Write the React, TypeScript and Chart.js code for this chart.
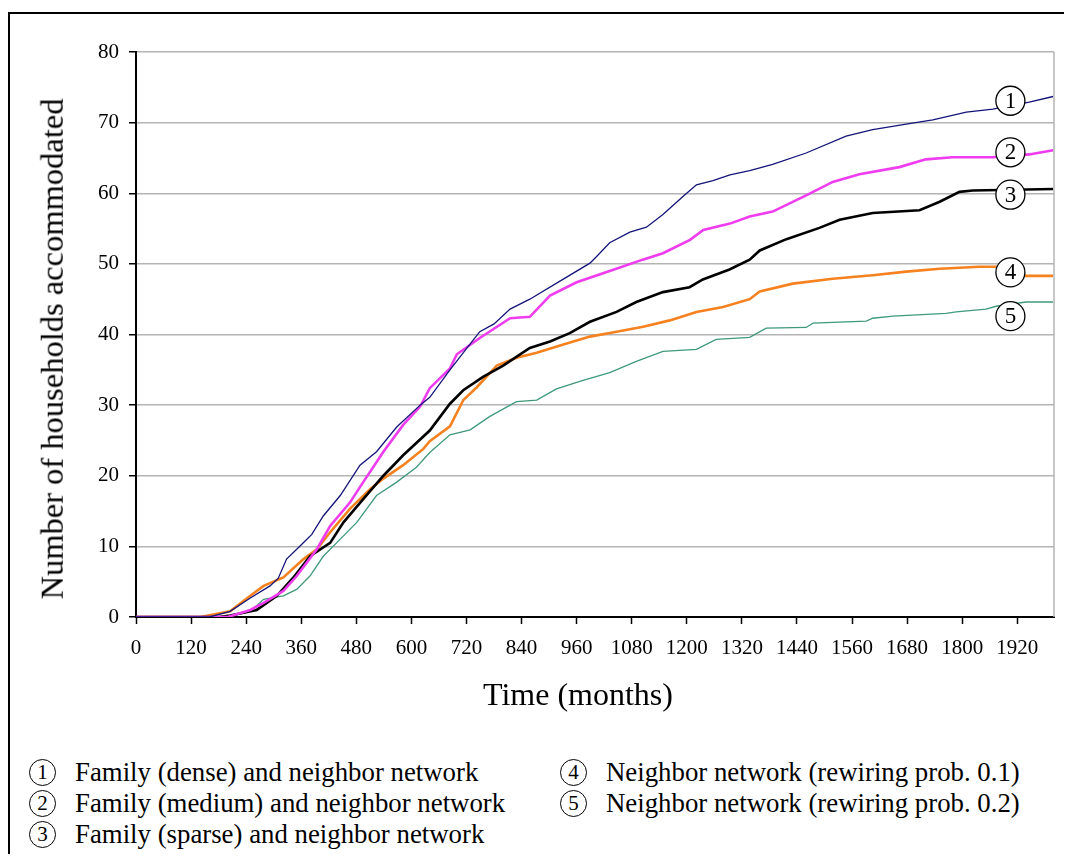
import React, { useEffect, useRef } from 'react';
import { Chart, registerables } from 'chart.js';

Chart.register(...registerables);

const FONT = '"Liberation Serif", "Times New Roman", Times, serif';

// Tick labels
const xTickValues = [0, 120, 240, 360, 480, 600, 720, 840, 960, 1080, 1200, 1320, 1440, 1560, 1680, 1800, 1920];
const yTickValues = [0, 10, 20, 30, 40, 50, 60, 70, 80];

// Series 1: Family (dense) and neighbor network
const s1Time = [0, 160, 205, 249, 292, 310, 328, 358, 383, 408, 445, 488, 524, 568, 619, 640, 684, 720, 749, 780, 815, 858, 930, 989, 1003, 1032, 1076, 1112, 1148, 1191, 1221, 1257, 1294, 1337, 1387, 1460, 1547, 1605, 1678, 1736, 1809, 1867, 1946, 1998];
const s1Vals = [0, 0, 0.8, 2.7, 4.4, 5.5, 8.2, 10.1, 11.7, 14.3, 17.2, 21.5, 23.4, 26.9, 30, 31.1, 35, 38, 40.4, 41.5, 43.6, 45, 47.8, 50.1, 51, 53, 54.5, 55.2, 57, 59.5, 61.2, 61.8, 62.6, 63.2, 64.1, 65.7, 68.1, 69, 69.8, 70.4, 71.5, 71.9, 72.9, 73.7];

// Series 2: Family (medium) and neighbor network
const s2Time = [0, 200, 249, 278, 321, 350, 394, 423, 466, 495, 539, 582, 619, 640, 684, 699, 749, 815, 858, 902, 960, 1032, 1104, 1148, 1207, 1236, 1294, 1337, 1387, 1460, 1518, 1576, 1663, 1721, 1779, 1867, 1946, 1998];
const s2Vals = [0, 0, 1.0, 2, 3.7, 5.8, 9.6, 12.9, 16.2, 19.1, 23.4, 27.2, 29.8, 32.4, 35.2, 37.2, 39.5, 42.3, 42.5, 45.5, 47.4, 49, 50.6, 51.5, 53.4, 54.8, 55.7, 56.7, 57.4, 59.7, 61.6, 62.7, 63.7, 64.8, 65.1, 65.1, 65.5, 66.1];

// Series 3: Family (sparse) and neighbor network
const s3Time = [0, 180, 205, 263, 307, 343, 379, 423, 452, 495, 539, 582, 640, 684, 713, 756, 800, 858, 902, 945, 989, 1047, 1090, 1148, 1206, 1235, 1293, 1337, 1359, 1417, 1489, 1533, 1605, 1707, 1751, 1794, 1823, 1998];
const s3Vals = [0, 0, 0.2, 1, 3, 5.6, 8.6, 10.5, 13.4, 16.7, 20, 22.9, 26.4, 30.2, 32.1, 34, 35.6, 38.1, 39, 40.2, 41.8, 43.2, 44.6, 46, 46.7, 47.8, 49.2, 50.6, 51.9, 53.5, 55.1, 56.25, 57.2, 57.6, 58.8, 60.2, 60.4, 60.6];

// Series 4: Neighbor network (rewiring prob. 0.1)
const s4Time = [0, 140, 205, 249, 278, 321, 365, 394, 423, 466, 510, 539, 582, 626, 640, 684, 713, 742, 786, 829, 873, 931, 989, 1047, 1105, 1163, 1221, 1279, 1337, 1359, 1431, 1518, 1605, 1678, 1751, 1837, 1880, 1890, 1998];
const s4Vals = [0, 0, 0.8, 3, 4.4, 5.6, 8.2, 9.6, 12, 15.3, 18.1, 19.6, 21.5, 23.8, 24.9, 27, 30.7, 32.5, 35.6, 36.7, 37.4, 38.6, 39.7, 40.4, 41.1, 42, 43.2, 43.9, 45, 46.1, 47.2, 47.9, 48.4, 48.9, 49.3, 49.6, 49.6, 48.3, 48.3];

// Series 5: Neighbor network (rewiring prob. 0.2)
const s5Time = [0, 200, 249, 278, 321, 350, 379, 408, 437, 481, 524, 568, 611, 640, 684, 728, 771, 829, 873, 916, 974, 1032, 1090, 1148, 1221, 1264, 1337, 1373, 1460, 1475, 1591, 1605, 1649, 1765, 1787, 1852, 1874, 1939, 1998];
const s5Vals = [0, 0, 0.8, 2.5, 3, 3.9, 5.8, 8.6, 10.5, 13.4, 17.2, 19.1, 21.2, 23.3, 25.8, 26.5, 28.4, 30.5, 30.7, 32.3, 33.5, 34.6, 36.2, 37.6, 37.9, 39.3, 39.6, 40.9, 41, 41.6, 41.9, 42.3, 42.6, 43, 43.2, 43.6, 44, 44.6, 44.6];

// Circled series markers on the plot (data coordinates)
const markerNumbers = ['1', '2', '3', '4', '5'];
const markerTime = 1905;
const markerValues = [73.1, 65.8, 59.8, 48.8, 42.6];

const legendLabels = [
  'Family (dense) and neighbor network',
  'Family (medium) and neighbor network',
  'Family (sparse) and neighbor network',
  'Neighbor network (rewiring prob. 0.1)',
  'Neighbor network (rewiring prob. 0.2)',
];

const seriesColors = ['#14147a', '#ee3cee', '#000000', '#f5821f', '#3f9a78'];
const seriesWidths = [1.3, 2.6, 2.6, 2.6, 1.3];

const toPoints = (t: number[], v: number[]) => t.map((x, i) => ({ x, y: v[i] }));

const markerPlugin = {
  id: 'markers',
  afterDatasetsDraw(chart: any) {
    const { ctx, chartArea, scales } = chart;
    ctx.save();
    // right border of the plot area
    ctx.strokeStyle = '#b4b4b4';
    ctx.lineWidth = 1.5;
    ctx.beginPath();
    ctx.moveTo(chartArea.right, chartArea.top);
    ctx.lineTo(chartArea.right, chartArea.bottom);
    ctx.stroke();
    markerValues.forEach((v, i) => {
      const x = scales.x.getPixelForValue(markerTime);
      const y = scales.y.getPixelForValue(v);
      ctx.beginPath();
      ctx.arc(x, y, 14.5, 0, Math.PI * 2);
      ctx.fillStyle = '#fff';
      ctx.fill();
      ctx.lineWidth = 1.3;
      ctx.strokeStyle = '#000';
      ctx.stroke();
      ctx.fillStyle = '#000';
      ctx.font = `23px ${FONT}`;
      ctx.textAlign = 'center';
      ctx.textBaseline = 'middle';
      ctx.fillText(markerNumbers[i], x, y + 1);
    });
    ctx.restore();
  },
};

const Circled = ({ n }: { n: string }) => (
  <span
    style={{
      display: 'inline-flex',
      alignItems: 'center',
      justifyContent: 'center',
      width: 27,
      height: 27,
      borderRadius: '50%',
      border: '1.3px solid #000',
      boxSizing: 'border-box',
      fontSize: 21,
      lineHeight: 1,
      fontFamily: FONT,
      flex: '0 0 auto',
    }}
  >
    {n}
  </span>
);

export default function App() {
  const ref = useRef<HTMLCanvasElement>(null);

  useEffect(() => {
    document.documentElement.style.overflow = 'hidden';
    const series = [
      toPoints(s1Time, s1Vals),
      toPoints(s2Time, s2Vals),
      toPoints(s3Time, s3Vals),
      toPoints(s4Time, s4Vals),
      toPoints(s5Time, s5Vals),
    ];
    const chart = new Chart(ref.current as HTMLCanvasElement, {
      type: 'line',
      data: {
        datasets: series.map((d, i) => ({
          label: legendLabels[i],
          data: d,
          borderColor: seriesColors[i],
          borderWidth: seriesWidths[i],
          pointRadius: 0,
          tension: 0,
          fill: false,
          order: i,
        })),
      },
      options: {
        responsive: false,
        animation: false,
        devicePixelRatio: 1,
        layout: { padding: { left: 0, top: 44, right: 10, bottom: 0 } },
        plugins: { legend: { display: false }, tooltip: { enabled: false } },
        scales: {
          x: {
            type: 'linear',
            min: 0,
            max: 2000,
            afterBuildTicks: (s: any) => {
              s.ticks = xTickValues.map((value) => ({ value }));
            },
            afterFit: (s: any) => {
              s.height = 91;
            },
            grid: { drawOnChartArea: false, tickLength: 7, tickColor: '#000', tickWidth: 1.5 },
            border: { color: '#000', width: 2 },
            ticks: {
              font: { family: FONT, size: 21 },
              color: '#000',
              padding: 12,
              maxRotation: 0,
              autoSkip: false,
              callback: (v: any) => String(v),
            },
          },
          y: {
            min: 0,
            max: 80,
            afterBuildTicks: (s: any) => {
              s.ticks = yTickValues.map((value) => ({ value }));
            },
            afterFit: (s: any) => {
              s.width = 128;
            },
            grid: { color: '#b4b4b4', lineWidth: 1.5, tickLength: 7, tickColor: '#000', tickWidth: 1.5 },
            border: { color: '#000', width: 2 },
            ticks: {
              font: { family: FONT, size: 21 },
              color: '#000',
              padding: 10,
              callback: (v: any) => String(v),
            },
          },
        },
      },
      plugins: [markerPlugin],
    });
    return () => chart.destroy();
  }, []);

  const legendRow = (idx: number, left: number, centerY: number) => (
    <div
      key={idx}
      style={{
        position: 'absolute',
        left,
        top: centerY - 14,
        display: 'flex',
        alignItems: 'center',
        height: 28,
        whiteSpace: 'nowrap',
      }}
    >
      <Circled n={markerNumbers[idx]} />
      <span style={{ marginLeft: 19, fontSize: 26.8, fontFamily: FONT, lineHeight: 1 }}>{legendLabels[idx]}</span>
    </div>
  );

  return (
    <div style={{ position: 'relative', width: 1056, height: 846, overflow: 'hidden', fontFamily: FONT, color: '#000' }}>
      <div
        style={{
          position: 'absolute',
          left: 0,
          top: 4,
          width: 1120,
          height: 900,
          border: '2px solid #000',
          boxSizing: 'border-box',
        }}
      />
      <canvas ref={ref} width={1056} height={700} style={{ position: 'absolute', left: 0, top: 0 }} />
      <div
        style={{
          position: 'absolute',
          left: 44,
          top: 341,
          transform: 'translate(-50%, -50%) rotate(-90deg)',
          whiteSpace: 'nowrap',
          fontSize: 32.5,
          lineHeight: 1,
        }}
      >
        Number of households accommodated
      </div>
      <div
        style={{
          position: 'absolute',
          left: 570,
          top: 686,
          transform: 'translate(-50%, -50%)',
          whiteSpace: 'nowrap',
          fontSize: 32,
          lineHeight: 1,
        }}
      >
        Time (months)
      </div>
      {legendRow(0, 21, 764)}
      {legendRow(1, 21, 795)}
      {legendRow(2, 21, 826)}
      {legendRow(3, 552, 764)}
      {legendRow(4, 552, 795)}
    </div>
  );
}
